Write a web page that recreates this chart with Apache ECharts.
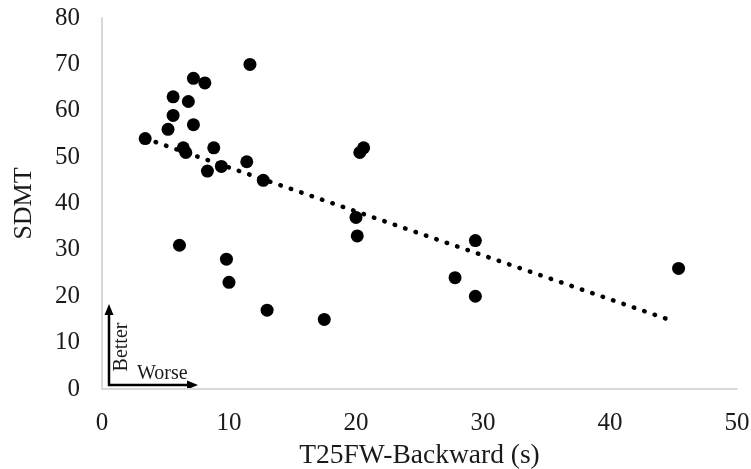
<!DOCTYPE html>
<html>
<head>
<meta charset="utf-8">
<script src="https://cdn.jsdelivr.net/npm/echarts@6/dist/echarts.min.js"></script>
<style>html,body{margin:0;padding:0;background:#fff;}#c{width:751px;height:469px;}</style>
</head>
<body>
<div id="c"></div>
<script>
const xValues = [3.4,5.2,5.6,5.6,6.1,6.4,6.6,6.8,7.2,7.2,8.1,8.3,8.8,9.4,9.8,10,11.4,11.65,12.7,13,17.5,20,20.1,20.3,20.6,27.8,29.4,29.4,45.4];
const yValues = [54,56,59,63,31,52,51,62,67,57,66,47,52,48,28,23,49,70,45,17,15,37,33,51,52,24,32,20,26];
const xTicks = [0,10,20,30,40,50];
const yTicks = [0,10,20,30,40,50,60,70,80];

const pts = xValues.map((x,i)=>[x,yValues[i]]);
// least-squares trend line across data range
const n = xValues.length;
const mx = xValues.reduce((a,b)=>a+b,0)/n;
const my = yValues.reduce((a,b)=>a+b,0)/n;
let sxy=0,sxx=0;
for(let i=0;i<n;i++){sxy+=(xValues[i]-mx)*(yValues[i]-my);sxx+=(xValues[i]-mx)**2;}
const slope=sxy/sxx, icpt=my-slope*mx;
const xmin=Math.min(...xValues), xmax=Math.max(...xValues)-0.6;
const trend=[[xmin,icpt+slope*xmin],[xmax,icpt+slope*xmax]];

const font='"Liberation Serif","Times New Roman",serif';
const txt='#1a1a1a';
const chart=echarts.init(document.getElementById('c'),null,{renderer:'canvas'});
chart.setOption({
  animation:false,
  grid:{left:102,right:14,top:18,bottom:80,containLabel:false,outerBoundsMode:'none'},
  xAxis:{type:'value',min:xTicks[0],max:xTicks[xTicks.length-1],interval:10,
    name:'T25FW-Backward (s)',nameLocation:'middle',nameGap:53,
    nameTextStyle:{fontFamily:font,fontSize:27.5,color:txt},
    axisLine:{show:true,lineStyle:{color:'#d9d9d9',width:2}},
    axisTick:{show:false},splitLine:{show:false},
    axisLabel:{fontFamily:font,fontSize:25,color:txt,margin:22}},
  yAxis:{type:'value',min:yTicks[0],max:yTicks[yTicks.length-1],interval:10,
    name:'SDMT',nameLocation:'middle',nameGap:65,nameRotate:90,
    nameTextStyle:{fontFamily:font,fontSize:26,color:txt},
    axisLine:{show:true,lineStyle:{color:'#d9d9d9',width:2}},
    axisTick:{show:false},splitLine:{show:false},
    axisLabel:{fontFamily:font,fontSize:25,color:txt,margin:22}},
  series:[
    {type:'line',data:trend,symbol:'none',z:1,
      lineStyle:{color:'#000',width:4.5,type:[0.5,10.5],cap:'round'}},
    {type:'scatter',data:pts,symbolSize:13,itemStyle:{color:'#000',opacity:1},z:2}
  ],
  graphic:[
    {type:'polyline',shape:{points:[[109,313],[109,385],[189,385]]},style:{stroke:'#000',lineWidth:2.5,fill:null}},
    {type:'polygon',shape:{points:[[109,304],[104.5,315],[113.5,315]]},style:{fill:'#000'}},
    {type:'polygon',shape:{points:[[198,385],[187,380.5],[187,389.5]]},style:{fill:'#000'}},
    {type:'text',x:122,y:347,rotation:Math.PI/2,style:{text:'Better',fontFamily:font,fontSize:20,fill:txt,align:'center',verticalAlign:'middle'}},
    {type:'text',x:137,y:374,style:{text:'Worse',fontFamily:font,fontSize:20,fill:txt,align:'left',verticalAlign:'middle'}}
  ]
});
</script>
</body>
</html>
